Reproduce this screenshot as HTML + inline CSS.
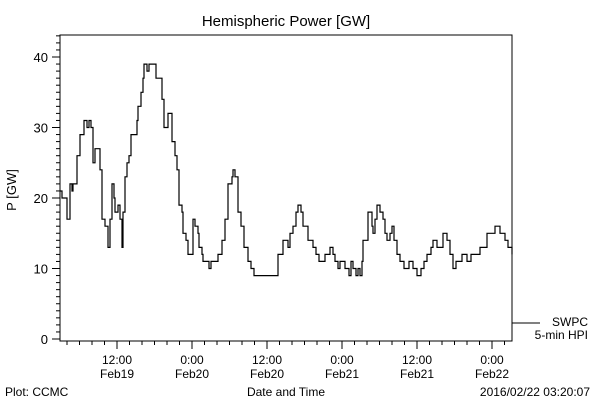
<!DOCTYPE html>
<html><head><meta charset="utf-8"><style>
body{margin:0;background:#fff;}
svg{display:block;font-family:"Liberation Sans",sans-serif;}
</style></head><body>
<svg id="chart" width="600" height="400" viewBox="0 0 600 400">
<text x="286" y="26" text-anchor="middle" font-size="15">Hemispheric Power [GW]</text>
<text transform="translate(16,190) rotate(-90)" text-anchor="middle" font-size="13">P [GW]</text>
<text x="5" y="396" font-size="12">Plot: CCMC</text>
<text x="286" y="396" text-anchor="middle" font-size="12">Date and Time</text>
<text x="590" y="396" text-anchor="end" font-size="12">2016/02/22 03:20:07</text>
<g>
<line x1="512" y1="323" x2="540" y2="323" stroke="#000"/>
<text x="588" y="326" text-anchor="end" font-size="12">SWPC</text>
<text x="588" y="339" text-anchor="end" font-size="12">5-min HPI</text>
</g>
<rect x="60" y="35" width="452" height="306" fill="none" stroke="#000"/>
<g id="axes"></g>
<path id="series" fill="none" stroke="#000" stroke-width="1.2"/>
</svg>
<script>
// hours since 2016-02-19 00:00
const hours=[2.88,3.2,3.68,4.0,4.48,4.8,4.96,5.6,6.08,6.4,6.72,7.2,7.52,7.84,8.16,8.48,8.96,9.28,9.6,10.08,10.56,10.88,11.2,11.52,11.68,12.16,12.48,12.8,12.96,13.28,13.6,13.92,14.24,14.88,15.2,15.36,15.84,16.16,16.32,16.8,17.12,17.92,18.24,18.88,19.2,19.52,19.84,20.16,20.64,20.8,21.28,21.6,21.92,22.4,22.56,23.04,23.36,23.84,24.16,24.48,24.96,25.12,25.6,25.76,26.24,26.72,27.04,27.84,28.16,28.8,29.28,29.76,30.4,30.56,30.88,31.36,31.84,32.32,32.96,33.44,33.92,37.28,37.76,38.4,38.56,39.2,39.36,39.68,40.16,40.64,40.96,41.44,41.76,42.56,42.88,43.36,43.84,44.32,44.8,45.28,45.76,46.08,46.56,46.88,47.36,47.68,48.48,48.8,49.12,49.44,49.76,50.24,50.56,50.88,51.2,51.36,52.16,52.48,52.8,52.96,53.28,53.6,54.08,54.56,54.88,55.2,55.68,56.0,56.32,56.8,57.28,57.92,58.72,59.36,60.0,60.64,61.12,61.6,62.24,62.56,63.2,63.84,64.16,64.8,65.28,65.76,66.24,67.2,67.68,68.0,68.64,68.96,70.08,70.4,71.2,71.36,72.48,72.8,73.28,73.6,74.08,74.56,75.2];
const power=[21,20,20,17,22,21,22,26,29,29,31,30,31,30,25,27,27,24,17,16,13,17,22,20,18,19,17,13,18,23,25,26,29,29,31,33,35,37,39,38,39,39,37,37,34,30,30,32,32,28,26,24,19,18,15,14,12,12,17,16,15,13,12,11,11,10,11,11,12,14,17,22,23,24,23,18,16,13,11,10,9,9,12,12,14,14,13,15,16,18,19,18,16,14,14,13,12,11,11,12,12,13,12,11,10,11,10,10,9,11,10,9,10,9,11,14,18,18,16,15,17,19,18,17,15,14,15,16,14,12,11,10,11,10,9,10,11,12,13,14,13,13,15,14,12,10,11,12,12,11,12,12,13,13,15,15,16,16,15,15,14,13,12,12];
const yTickLabels=[0,10,20,30,40];
const xTickHours=[12,24,36,48,60,72];
const xTickTimes=["12:00","0:00","12:00","0:00","12:00","0:00"];
const xTickDates=["Feb19","Feb20","Feb20","Feb21","Feb21","Feb22"];

const L=60,R=512,T=35,B=341;
const xs=h=>42+h*6.25;
const ys=v=>339-v*7.05;
const NS="http://www.w3.org/2000/svg";
const ax=document.getElementById('axes');
function mk(tag,attrs){const e=document.createElementNS(NS,tag);for(const k in attrs)e.setAttribute(k,attrs[k]);ax.appendChild(e);return e;}
for(let v=0;v<=43;v++){
  const y=ys(v),maj=v%10===0;
  const t=mk('line',{x1:maj?L-8:L-4,x2:L,y1:y,y2:y,stroke:'#000'});
  
  
}
yTickLabels.forEach(v=>{
  const t=mk('text',{x:L-12,y:ys(v)+5,'text-anchor':'end','font-size':'13'});
  t.textContent=v;
  
  
});
for(let h=4;h<=74;h+=2){
  const x=xs(h),maj=h%12===0;
  const t=mk('line',{x1:x,x2:x,y1:B,y2:maj?B+8:B+4,stroke:'#000'});
  
  
}
xTickHours.forEach((h,i)=>{
  const a=mk('text',{x:xs(h),y:364,'text-anchor':'middle','font-size':'12'});
  a.textContent=xTickTimes[i];
  
  
  const b=mk('text',{x:xs(h),y:378,'text-anchor':'middle','font-size':'12'});
  b.textContent=xTickDates[i];
  
  
});
let d='';
hours.forEach((h,i)=>{
  const x=xs(h).toFixed(1),y=ys(power[i]).toFixed(1);
  if(i===0)d+='M'+x+' '+y;else d+='H'+x+'V'+y;
});
document.getElementById('series').setAttribute('d',d);
</script>
</body></html>
